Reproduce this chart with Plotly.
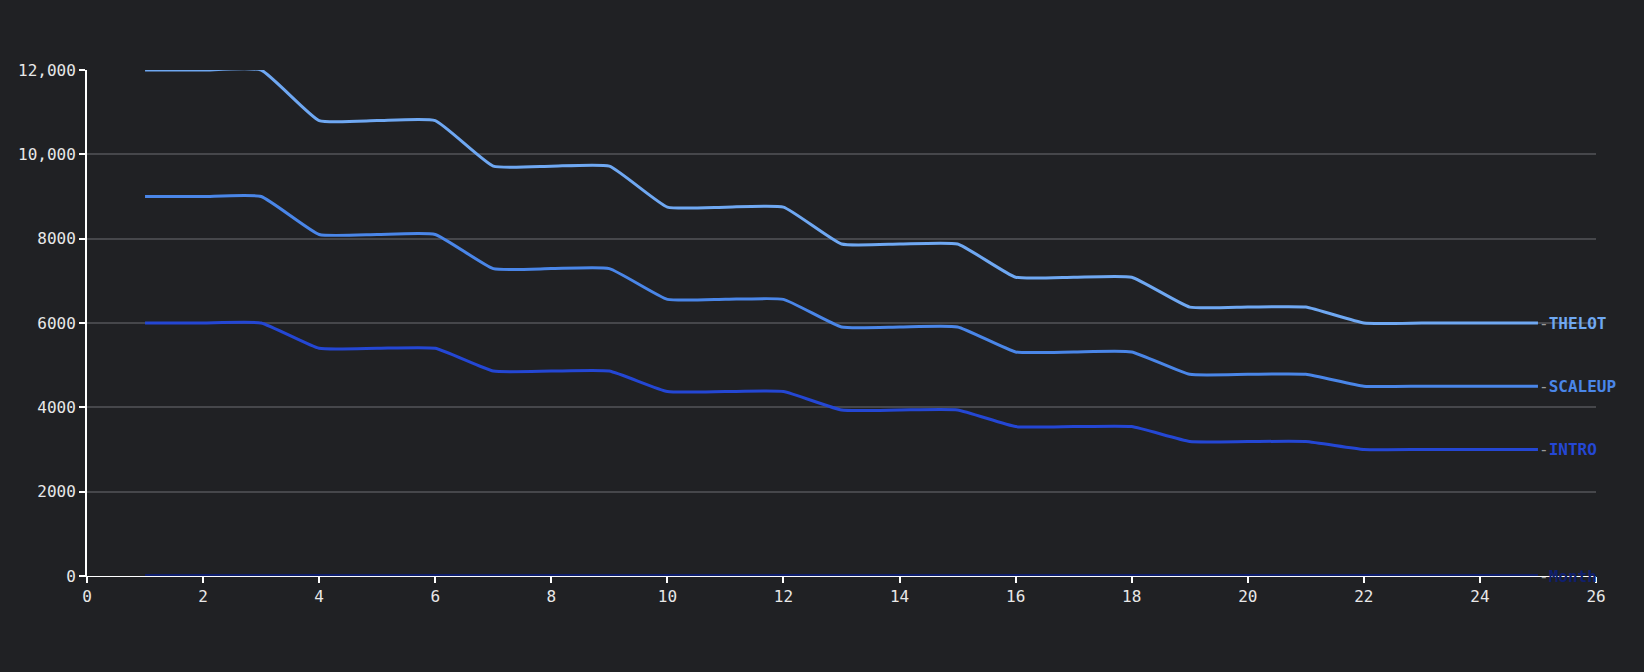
import plotly.graph_objects as go

# month index on the x axis
months = list(range(1, 26))

# monthly price per plan
thelot = [12000, 12000, 12000, 10800, 10800, 10800, 9720, 9720, 9720,
          8748, 8748, 8748, 7873, 7873, 7873, 7086, 7086, 7086,
          6377, 6377, 6377, 6000, 6000, 6000, 6000]
scaleup = [9000, 9000, 9000, 8100, 8100, 8100, 7290, 7290, 7290,
           6561, 6561, 6561, 5905, 5905, 5905, 5314, 5314, 5314,
           4783, 4783, 4783, 4500, 4500, 4500, 4500]
intro = [6000, 6000, 6000, 5400, 5400, 5400, 4860, 4860, 4860,
         4374, 4374, 4374, 3937, 3937, 3937, 3543, 3543, 3543,
         3189, 3189, 3189, 3000, 3000, 3000, 3000]
month_line = [0] * 25

names = ['THELOT', 'SCALEUP', 'INTRO', 'Month']
series = [thelot, scaleup, intro, month_line]
colors = ['#6fa8f2', '#4a86e8', '#2447d4', '#0f1f6e']

bg = '#202124'
font = 'DejaVu Sans Mono'

fig = go.Figure()
# draw the baseline series first so the others sit on top
for name, ys, col in reversed(list(zip(names, series, colors))):
    fig.add_trace(go.Scatter(x=months, y=ys, mode='lines', name=name,
                             line=dict(color=col, width=4 if name == 'Month' else 3,
                                       shape='linear' if name == 'Month' else 'spline',
                                       smoothing=0.4),
                             cliponaxis=False, hoverinfo='skip'))
    fig.add_annotation(x=months[-1], y=ys[-1], xref='x', yref='y',
                       text="<span style='color:#9a9a9a'>-</span><b>%s</b>" % name,
                       showarrow=False, xanchor='left', yanchor='middle', xshift=-1,
                       font=dict(family=font, size=16, color=col))

fig.update_xaxes(range=[0, 26], dtick=2, tick0=0, showgrid=False, zeroline=False,
                 showline=True, linecolor='#ffffff', linewidth=1, layer='below traces',
                 ticks='outside', ticklen=6, tickcolor='#ffffff', tickwidth=1.5,
                 tickfont=dict(family=font, size=16, color='#e8e8e8'))
fig.update_yaxes(range=[0, 12000], dtick=2000, tick0=0, exponentformat='none',
                 showgrid=True, gridcolor='#46474b', gridwidth=1.5, zeroline=False,
                 showline=True, linecolor='#ffffff', linewidth=2, layer='below traces',
                 ticks='outside', ticklen=6, tickcolor='#ffffff', tickwidth=1.5,
                 tickfont=dict(family=font, size=16, color='#e8e8e8'))
fig.update_layout(width=1644, height=672, paper_bgcolor=bg, plot_bgcolor=bg,
                  showlegend=False,
                  margin=dict(l=87, r=48, t=70, b=96))

fig.write_html("out.html", config={'displayModeBar': False},
               post_script="document.body.style.margin='0';"
                           "document.body.style.background='%s';" % bg)
